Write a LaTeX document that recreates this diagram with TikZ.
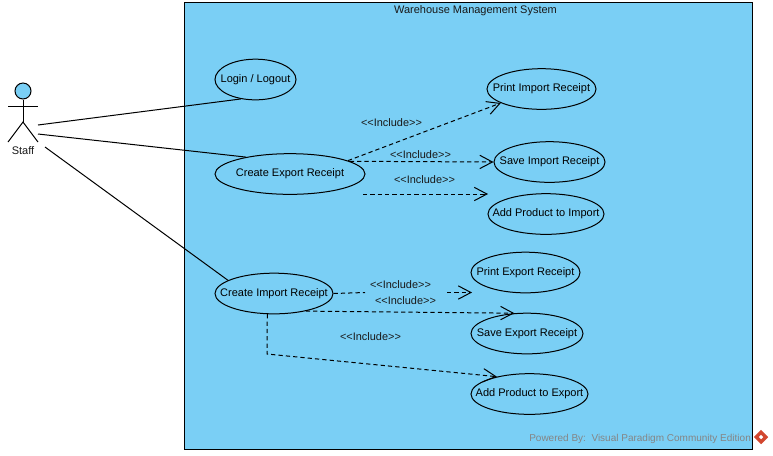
\documentclass[tikz,border=0pt]{standalone}
\usepackage{fontspec}
\setmainfont{Liberation Sans}
\usetikzlibrary{arrows.meta,calc,shapes.geometric}
\definecolor{sysblue}{HTML}{7ACFF5}
\definecolor{vplogo}{HTML}{D2472F}
\newcommand{\uctext}[1]{\raisebox{-1.6pt}{\makebox[0pt]{#1}}}
\newcommand{\inclabel}{<{}<Include>{}>}
\tikzset{
  px/.style={x=0.75pt,y=-0.75pt},
  usecase/.style={draw=black,line width=0.75pt,ellipse,fill=sysblue,minimum width=#1*0.75pt,minimum height=30.5pt,inner sep=0pt,font=\fontsize{8.25pt}{10pt}\selectfont},
  lbl/.style={font=\fontsize{8.2pt}{9pt}\selectfont,text=black!90,inner sep=0pt},
  assoc/.style={draw=black,line width=0.75pt},
  incl/.style={draw=black,line width=0.75pt,dash pattern=on 3.2pt off 2.3pt},
  inclhead/.style={incl,-{Straight Barb[length=9.5pt,width=10pt,line width=0.75pt]}},
  limb/.style={draw=black,line width=0.75pt},
}
\begin{document}
\begin{tikzpicture}[px]
\useasboundingbox (0,0) rectangle (773,455);
\node[draw=black,fill=sysblue,line width=0.75pt,minimum width=426pt,minimum height=335.5pt,inner sep=0pt,anchor=north west] (system) at (184,2) {};
\node[lbl,font=\fontsize{8.25pt}{10pt}\selectfont] (title) at (475.5,11) {Warehouse Management System};

% actor
\node[draw=black,fill=sysblue,circle,line width=0.75pt,minimum size=12pt,inner sep=0pt] (head) at (23,91) {};
\coordinate (hip) at (23,122);
\coordinate (armL) at (8,106);
\coordinate (armR) at (38,106);
\coordinate (footL) at (8,142);
\coordinate (footR) at (38,142);
\draw[limb] (head.south) -- (hip);
\draw[limb] (armL) -- (armR);
\draw[limb] (footL) -- (hip) -- (footR);
\node[lbl,font=\fontsize{8.25pt}{10pt}\selectfont] (staff) at (23,151) {Staff};
\coordinate (s1) at (38,125);
\coordinate (s2) at (38,134);
\coordinate (s3) at (45,147);

% use cases
\node[usecase=81] (login) at (255.5,79.5) {\uctext{Login / Logout}};
\node[usecase=150] (cexp) at (290,174) {\uctext{Create Export Receipt}};
\node[usecase=109] (pimp) at (541.5,89) {\uctext{Print Import Receipt}};
\node[usecase=111] (simp) at (549.5,162) {\uctext{Save Import Receipt}};
\node[usecase=116] (aimp) at (546,214) {\uctext{Add Product to Import}};
\node[usecase=118] (cimp) at (274,293.5) {\uctext{Create Import Receipt}};
\node[usecase=109] (pexp) at (525.5,272.5) {\uctext{Print Export Receipt}};
\node[usecase=112] (sexp) at (527,333.5) {\uctext{Save Export Receipt}};
\node[usecase=117] (aexp) at (529.5,394) {\uctext{Add Product to Export}};

% associations
\draw[assoc] (s1) -- (login.-127.6);
\draw[assoc] (s2) -- (cexp.159.3);
\draw[assoc] (s3) -- (cimp.164.5);

% include relations
\coordinate (i3a) at (363,194);
\coordinate (i3b) at (488,194);
\coordinate (i4a) at (365,292.5);
\coordinate (i4b) at (447,292.5);
\coordinate (i4c) at (472,292.5);
\coordinate (i6b) at (267,354);
\draw[inclhead] (cexp.13) -- (pimp.-161.8);
\draw[inclhead] (cexp.12) -- (simp.west);
\draw[inclhead] (i3a) -- (i3b);
\draw[incl] (cimp.east) -- (i4a);
\draw[inclhead] (i4b) -- (i4c);
\draw[inclhead] (cimp.-29.4) -- (sexp.122);
\draw[inclhead] (cimp.-108.9) -- (i6b) -- (aexp.152.3);

\node[lbl] (l1) at (391.5,122.5) {\inclabel};
\node[lbl] (l2) at (420.5,154.5) {\inclabel};
\node[lbl] (l3) at (424.5,179.5) {\inclabel};
\node[lbl] (l4) at (400.5,284.5) {\inclabel};
\node[lbl] (l5) at (405.5,300.5) {\inclabel};
\node[lbl] (l6) at (370.5,336.5) {\inclabel};

% watermark
\node[lbl,font=\fontsize{7.5pt}{9pt}\selectfont,text=black!48,anchor=west] (mark) at (529,438.5) {Powered By:\ \ Visual Paradigm Community Edition};
\node[diamond,fill=vplogo,minimum size=11pt,inner sep=0pt] (logo) at (761,437) {};
\node[diamond,fill=white,minimum size=3.5pt,inner sep=0pt] (logoc) at (761,437) {};
\end{tikzpicture}
\end{document}
